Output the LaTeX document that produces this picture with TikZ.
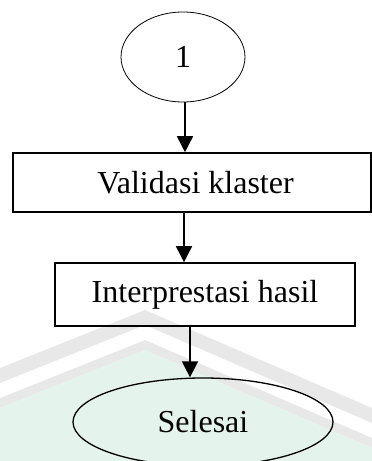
\documentclass[tikz,border=0pt]{standalone}
\usepackage{fontspec}
\setmainfont{Liberation Serif}
\usetikzlibrary{shapes.geometric,arrows.meta,calc}
\definecolor{wmgray}{HTML}{E8E8E8}
\definecolor{wmgreen}{HTML}{E4F3EB}
\tikzset{
  boxnode/.style={draw, line width=1.6pt, rectangle, inner sep=0pt, font=\fontsize{32}{36}\selectfont},
  ovalnode/.style={draw, ellipse, inner sep=0pt, font=\fontsize{32}{36}\selectfont},
  arr/.style={line width=1.6pt, -{Triangle[width=16pt,length=16pt]}}
}
\begin{document}
\begin{tikzpicture}[x=1pt,y=-1pt]
\useasboundingbox (0,0) rectangle (372,461);
% watermark
\fill[wmgray] (0,368) -- (145,310) -- (372,408) -- (372,423) -- (145,325) -- (0,383) -- cycle;
\fill[wmgray] (0,398) -- (145,340) -- (372,438) -- (372,448) -- (145,350) -- (0,408) -- cycle;
\fill[wmgreen] (0,408) -- (145,350) -- (372,448) -- (372,461) -- (0,461) -- cycle;
% nodes
\node[ovalnode, line width=0.8pt, minimum width=124pt, minimum height=90pt] (one) at (183,57) {1};
\node[boxnode, minimum width=358pt, minimum height=59pt] (valid) at (192,182.5) {\hspace*{7pt}Validasi klaster};
\node[boxnode, minimum width=300pt, minimum height=63pt] (interp) at (205,294.5) {Interprestasi hasil};
\node[ovalnode, line width=1.3pt, minimum width=260pt, minimum height=88pt] (end) at (203,422) {Selesai};
% connectors
\draw[arr] ([xshift=2pt]one.south) -- ([xshift=2pt]one.south |- valid.north);
\draw[arr] ([xshift=-8pt]valid.south) -- ([xshift=-8pt]valid.south |- interp.north);
\draw[arr] ([xshift=-15pt]interp.south) -- ([xshift=-15pt]interp.south |- end.north);
\end{tikzpicture}
\end{document}
